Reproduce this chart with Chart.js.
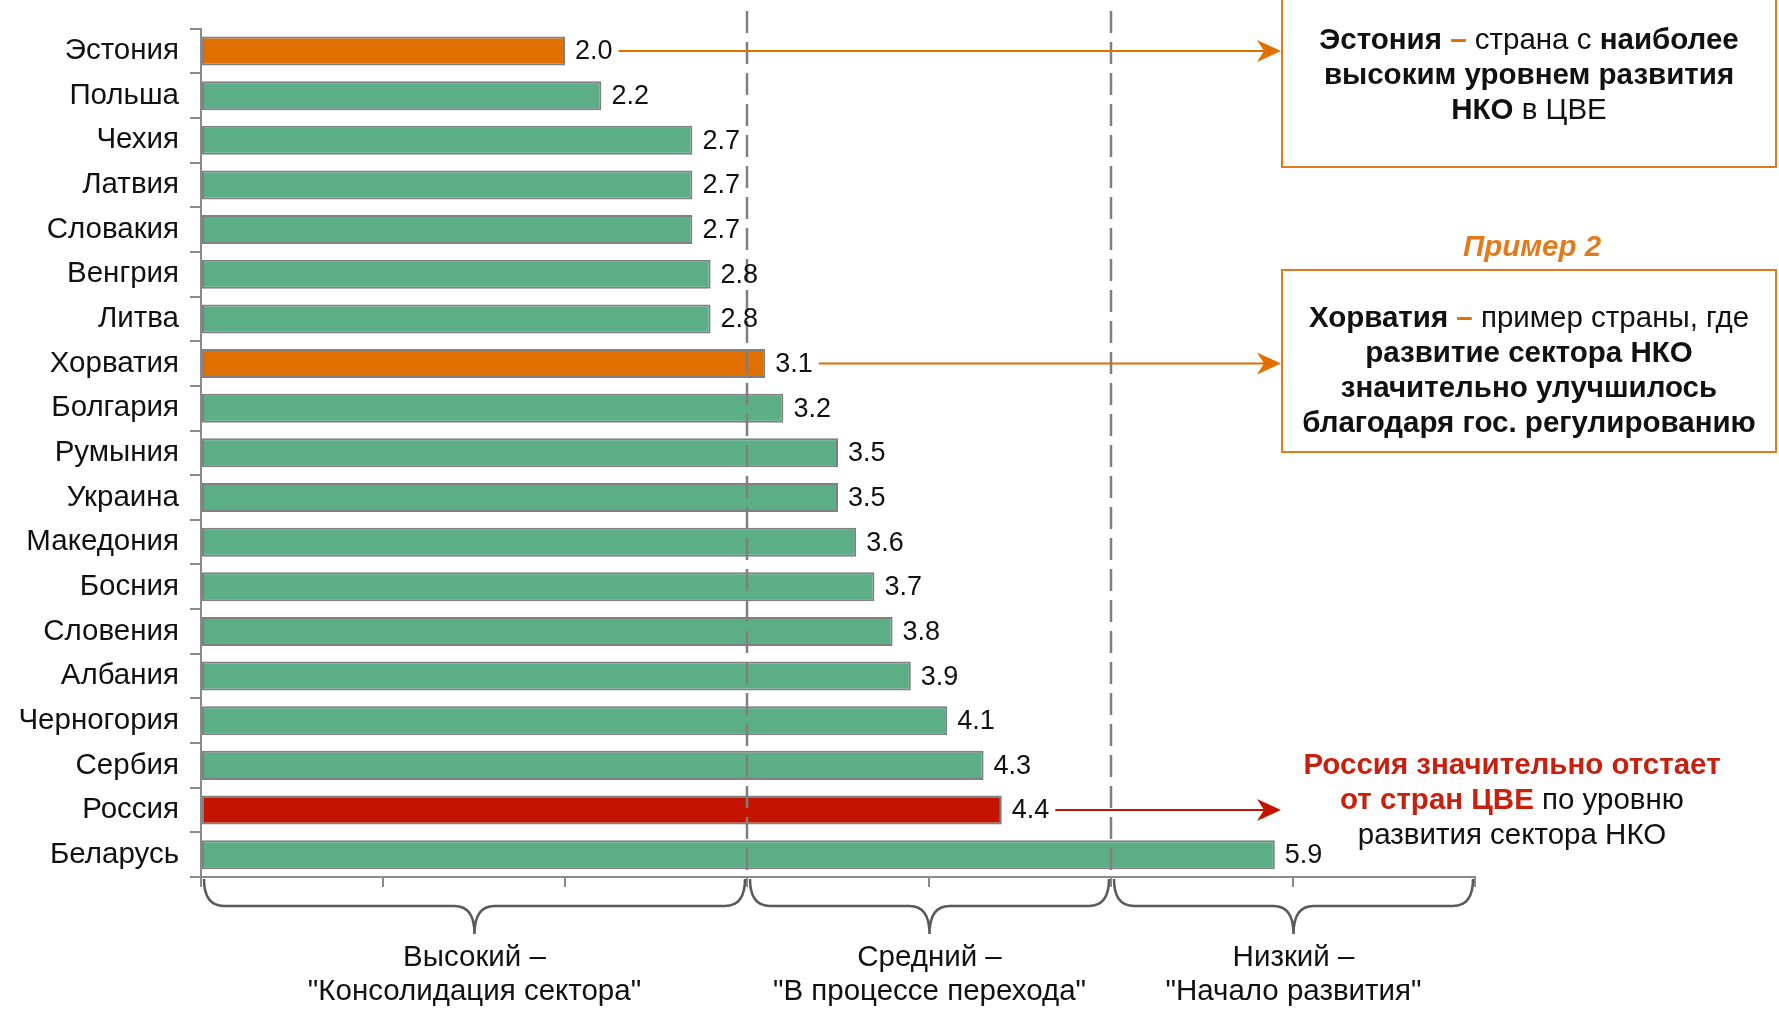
<!DOCTYPE html>
<html><head><meta charset="utf-8">
<script src="https://cdn.jsdelivr.net/npm/chart.js@4"></script>
<style>html,body{margin:0;padding:0;background:#fff}#wrap{width:1779px;height:1010px;position:relative}</style>
</head><body><div id="wrap"><canvas id="c"></canvas></div>
<script>
const countries = ['Эстония','Польша','Чехия','Латвия','Словакия','Венгрия','Литва','Хорватия','Болгария','Румыния','Украина','Македония','Босния','Словения','Албания','Черногория','Сербия','Россия','Беларусь'];
const scores = [2.0,2.2,2.7,2.7,2.7,2.8,2.8,3.1,3.2,3.5,3.5,3.6,3.7,3.8,3.9,4.1,4.3,4.4,5.9];
const xTickValues = [0,1,2,3,4,5,6,7];
const thresholds = [3,5];
const groupRanges = [[0,3],[3,5],[5,7]];
const groupLabels = [['Высокий –','"Консолидация сектора"'],['Средний –','"В процессе перехода"'],['Низкий –','"Начало развития"']];
const orangeCountries = ['Эстония','Хорватия'];
const redCountries = ['Россия'];

const FONT = '"Liberation Sans", Arial, sans-serif';
const GREEN = '#5BAE86', ORANGE = '#E07000', RED = '#C41400', GRAY = '#8a8a8a';
const BOX_ORANGE = '#E37B1C', TEXT_RED = '#C8200E';
const barColors = countries.map(c => orangeCountries.includes(c) ? ORANGE : (redCountries.includes(c) ? RED : GREEN));

function richLine(ctx, segs, cx, y, size) {
  let total = 0;
  segs.forEach(s => { ctx.font = (s.i ? 'italic ' : '') + (s.b ? 'bold ' : '') + size + 'px ' + FONT; s.w = ctx.measureText(s.t).width; total += s.w; });
  let x = cx - total / 2;
  ctx.textAlign = 'left'; ctx.textBaseline = 'middle';
  segs.forEach(s => { ctx.font = (s.i ? 'italic ' : '') + (s.b ? 'bold ' : '') + size + 'px ' + FONT; ctx.fillStyle = s.c || '#111'; ctx.fillText(s.t, x, y); x += s.w; });
}
function arrow(ctx, x0, x1, y, color) {
  ctx.save();
  ctx.strokeStyle = color; ctx.fillStyle = color; ctx.lineWidth = 2;
  ctx.beginPath(); ctx.moveTo(x0, y); ctx.lineTo(x1 - 10, y); ctx.stroke();
  ctx.beginPath(); ctx.moveTo(x1, y); ctx.lineTo(x1 - 24, y - 11); ctx.lineTo(x1 - 17, y); ctx.lineTo(x1 - 24, y + 11); ctx.closePath(); ctx.fill();
  ctx.restore();
}
function brace(ctx, x0, x1, yTop, yMid, yTip) {
  const xc = (x0 + x1) / 2, r = 20;
  ctx.beginPath();
  ctx.moveTo(x0, yTop);
  ctx.quadraticCurveTo(x0, yMid, x0 + r, yMid);
  ctx.lineTo(xc - r, yMid);
  ctx.quadraticCurveTo(xc, yMid, xc, yTip);
  ctx.moveTo(xc, yTip);
  ctx.quadraticCurveTo(xc, yMid, xc + r, yMid);
  ctx.lineTo(x1 - r, yMid);
  ctx.quadraticCurveTo(x1, yMid, x1, yTop);
  ctx.stroke();
}

const overlay = {
  id: 'overlay',
  afterDatasetsDraw(chart) {
    const ctx = chart.ctx, xs = chart.scales.x, area = chart.chartArea;
    const meta = chart.getDatasetMeta(0);
    ctx.save();
    // dashed threshold lines
    ctx.strokeStyle = '#7f7f7f'; ctx.lineWidth = 2.5; ctx.setLineDash([22, 9]);
    thresholds.forEach(v => { const x = Math.round(xs.getPixelForValue(v)); ctx.beginPath(); ctx.moveTo(x, 11); ctx.lineTo(x, area.bottom); ctx.stroke(); });
    ctx.setLineDash([]);
    // value labels
    const labelEnds = {};
    meta.data.forEach((bar, i) => {
      const txt = scores[i].toFixed(1);
      const x = bar.x + 10;
      ctx.font = '27px ' + FONT; ctx.fillStyle = '#111'; ctx.textAlign = 'left'; ctx.textBaseline = 'middle';
      ctx.fillText(txt, x, bar.y + 1);
      labelEnds[countries[i]] = { x: x + ctx.measureText(txt).width, y: bar.y };
    });
    // braces
    ctx.strokeStyle = '#5a5a5a'; ctx.lineWidth = 2.5;
    groupRanges.forEach((g, i) => {
      const x0 = xs.getPixelForValue(g[0]) + 3, x1 = xs.getPixelForValue(g[1]) - 2;
      brace(ctx, x0, x1, area.bottom + 2, area.bottom + 29, area.bottom + 57);
      const cx = (x0 + x1) / 2;
      ctx.font = '29.5px ' + FONT; ctx.fillStyle = '#111'; ctx.textAlign = 'center'; ctx.textBaseline = 'middle';
      ctx.fillText(groupLabels[i][0], cx, 958);
      ctx.fillText(groupLabels[i][1], cx, 992);
    });
    // annotation boxes
    const bx = 1282, bw = 494;
    ctx.strokeStyle = BOX_ORANGE; ctx.lineWidth = 2;
    ctx.strokeRect(bx, -2, bw, 169);
    ctx.strokeRect(bx, 270, bw, 182);
    const cx = bx + bw / 2, S = 29.5;
    richLine(ctx, [{t:'Эстония', b:1}, {t:' – ', b:1, c:ORANGE}, {t:'страна с '}, {t:'наиболее', b:1}], cx, 41, S);
    richLine(ctx, [{t:'высоким уровнем развития', b:1}], cx, 76, S);
    richLine(ctx, [{t:'НКО', b:1}, {t:' в ЦВЕ'}], cx, 111, S);
    richLine(ctx, [{t:'Пример 2', b:1, i:1, c:BOX_ORANGE}], cx + 3, 248, S);
    richLine(ctx, [{t:'Хорватия', b:1}, {t:' – ', b:1, c:ORANGE}, {t:'пример страны, где'}], cx, 319, S);
    richLine(ctx, [{t:'развитие сектора НКО', b:1}], cx, 354, S);
    richLine(ctx, [{t:'значительно улучшилось', b:1}], cx, 389, S);
    richLine(ctx, [{t:'благодаря гос. регулированию', b:1}], cx, 424, S);
    richLine(ctx, [{t:'Россия значительно отстает', b:1, c:TEXT_RED}], 1512, 766, S);
    richLine(ctx, [{t:'от стран ЦВЕ', b:1, c:TEXT_RED}, {t:' по уровню'}], 1512, 801, S);
    richLine(ctx, [{t:'развития сектора НКО'}], 1512, 836, S);
    // arrows
    const e = labelEnds['Эстония'], h = labelEnds['Хорватия'], r = labelEnds['Россия'];
    arrow(ctx, e.x + 6, bx - 1, e.y, ORANGE);
    arrow(ctx, h.x + 6, bx - 1, h.y, ORANGE);
    arrow(ctx, r.x + 6, bx - 1, r.y, RED);
    ctx.restore();
  }
};

new Chart(document.getElementById('c'), {
  type: 'bar',
  data: { labels: countries, datasets: [{ data: scores, backgroundColor: barColors, borderColor: '#808080', borderWidth: 2, borderSkipped: false, barPercentage: 0.65, categoryPercentage: 1 }] },
  options: {
    indexAxis: 'y', responsive: true, maintainAspectRatio: false, animation: false, devicePixelRatio: 1,
    layout: { padding: { top: 25, right: 304, left: 0, bottom: 0 } },
    plugins: { legend: { display: false }, tooltip: { enabled: false } },
    scales: {
      x: { type: 'linear', min: xTickValues[0], max: xTickValues[xTickValues.length - 1],
           afterBuildTicks: s => { s.ticks = xTickValues.map(v => ({ value: v })); },
           ticks: { display: false },
           grid: { drawOnChartArea: false, drawTicks: true, tickLength: 10, color: GRAY, lineWidth: 2 },
           border: { display: true, color: GRAY, width: 2 },
           afterFit: s => { s.height = 133; } },
      y: { type: 'category',
           ticks: { color: '#111', font: { size: 29.5, family: FONT }, padding: 11 },
           grid: { drawOnChartArea: false, drawTicks: true, tickLength: 11, color: GRAY, lineWidth: 2, offset: true },
           border: { display: true, color: GRAY, width: 2 },
           afterFit: s => { s.width = 201; } }
    }
  },
  plugins: [overlay]
});
</script></body></html>
